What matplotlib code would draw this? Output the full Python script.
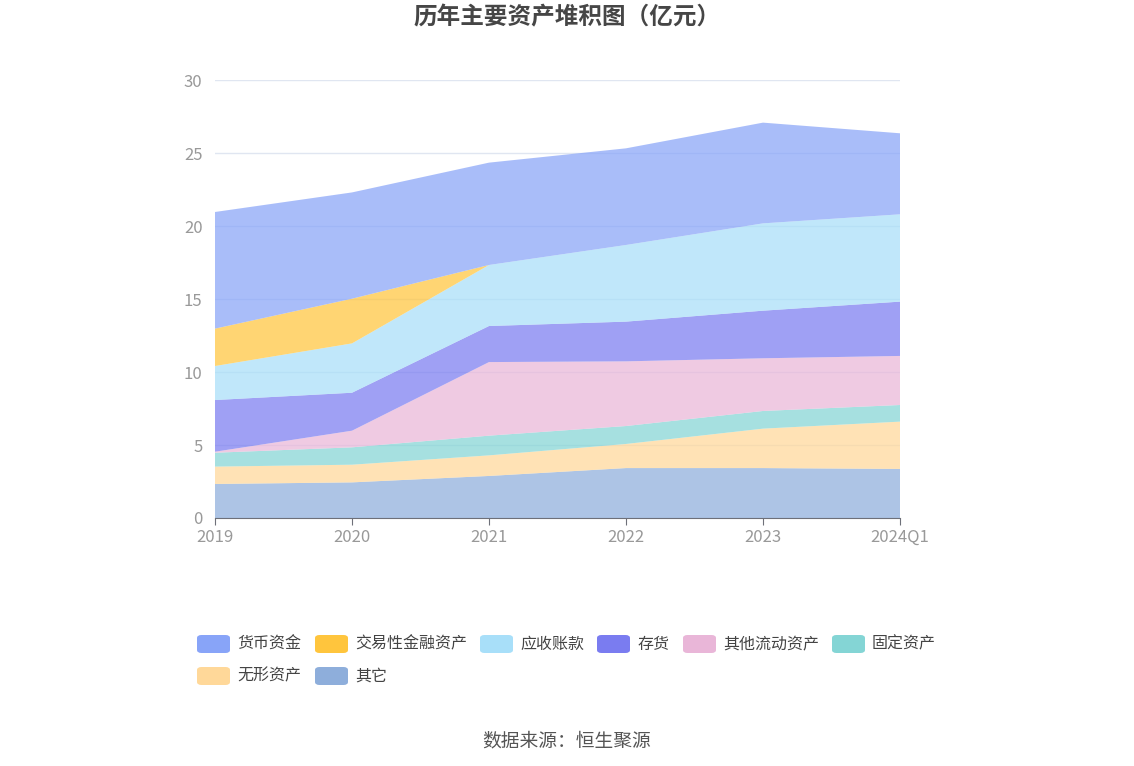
import matplotlib
matplotlib.use('Agg')
import matplotlib.pyplot as plt
from matplotlib.patches import FancyBboxPatch
import numpy as np

plt.rcParams['font.family'] = ['Noto Sans CJK SC', 'DejaVu Sans']

periods = ['2019', '2020', '2021', '2022', '2023', '2024Q1']
series_names = ['货币资金', '交易性金融资产', '应收账款', '存货', '其他流动资产', '固定资产', '无形资产', '其它']
cash = [7.99, 7.28, 7.01, 6.62, 6.90, 5.55]
trading_assets = [2.56, 3.06, 0.0, 0.0, 0.0, 0.0]
receivables = [2.33, 3.38, 4.18, 5.25, 5.98, 5.98]
inventory = [3.54, 2.60, 2.47, 2.72, 3.26, 3.72]
other_current = [0.07, 1.14, 5.04, 4.43, 3.61, 3.36]
fixed_assets = [0.95, 1.19, 1.35, 1.23, 1.21, 1.14]
intangibles = [1.19, 1.21, 1.41, 1.65, 2.70, 3.24]
others = [2.33, 2.44, 2.88, 3.42, 3.42, 3.36]
colors = ['#88A4F8', '#FFC53D', '#A8DFF9', '#7A7CF0', '#E9B6D8', '#84D5D5', '#FFD899', '#8EAEDB']

fig = plt.figure(figsize=(11.34, 7.66), dpi=100)
ax = fig.add_axes([215 / 1134, 1 - 518 / 766, 685 / 1134, 438 / 766])

x = np.arange(len(periods))
stack = [others, intangibles, fixed_assets, other_current, inventory, receivables, trading_assets, cash]
ax.stackplot(x, *stack, colors=colors[::-1], alpha=0.72, linewidth=0)

ax.set_xlim(0, len(periods) - 1)
ax.set_ylim(0, 30)
ax.set_yticks([0, 5, 10, 15, 20, 25, 30])
ax.set_xticks(x)
ax.set_xticklabels(periods)
ax.set_axisbelow(True)
ax.grid(axis='y', color='#E0E6F1', lw=1)
for s in ['top', 'right', 'left']:
    ax.spines[s].set_visible(False)
ax.spines['bottom'].set_color('#6E7079')
ax.tick_params(axis='y', length=0, labelsize=12, labelcolor='#999999', pad=9)
ax.tick_params(axis='x', length=5, color='#6E7079', labelsize=12, labelcolor='#999999', pad=3)

fig.text(0.5, 1 - 17 / 766, '历年主要资产堆积图（亿元）', ha='center', va='center',
         fontsize=17, fontweight='bold', color='#464646')

# legend, laid out like the reference (row-major flow)
legend_pos = [(197, 644), (315, 644), (480, 644), (597, 644), (683, 644), (832, 644),
              (197, 676), (315, 676)]
W, H = 1134, 766
for name, color, (px, py) in zip(series_names, colors, legend_pos):
    box = FancyBboxPatch((px / W, 1 - (py + 9) / H), 33 / W, 18 / H,
                         boxstyle='round,pad=0,rounding_size=0.004',
                         transform=fig.transFigure, facecolor=color, edgecolor='none')
    fig.patches.append(box)
    fig.text((px + 40) / W, 1 - py / H, name, ha='left', va='center',
             fontsize=11.5, color='#444444')

fig.text(0.5, 1 - 741 / 766, '数据来源：恒生聚源', ha='center', va='center',
         fontsize=13.5, color='#555555')

plt.savefig('out.png', dpi=100)
plt.close(fig)
